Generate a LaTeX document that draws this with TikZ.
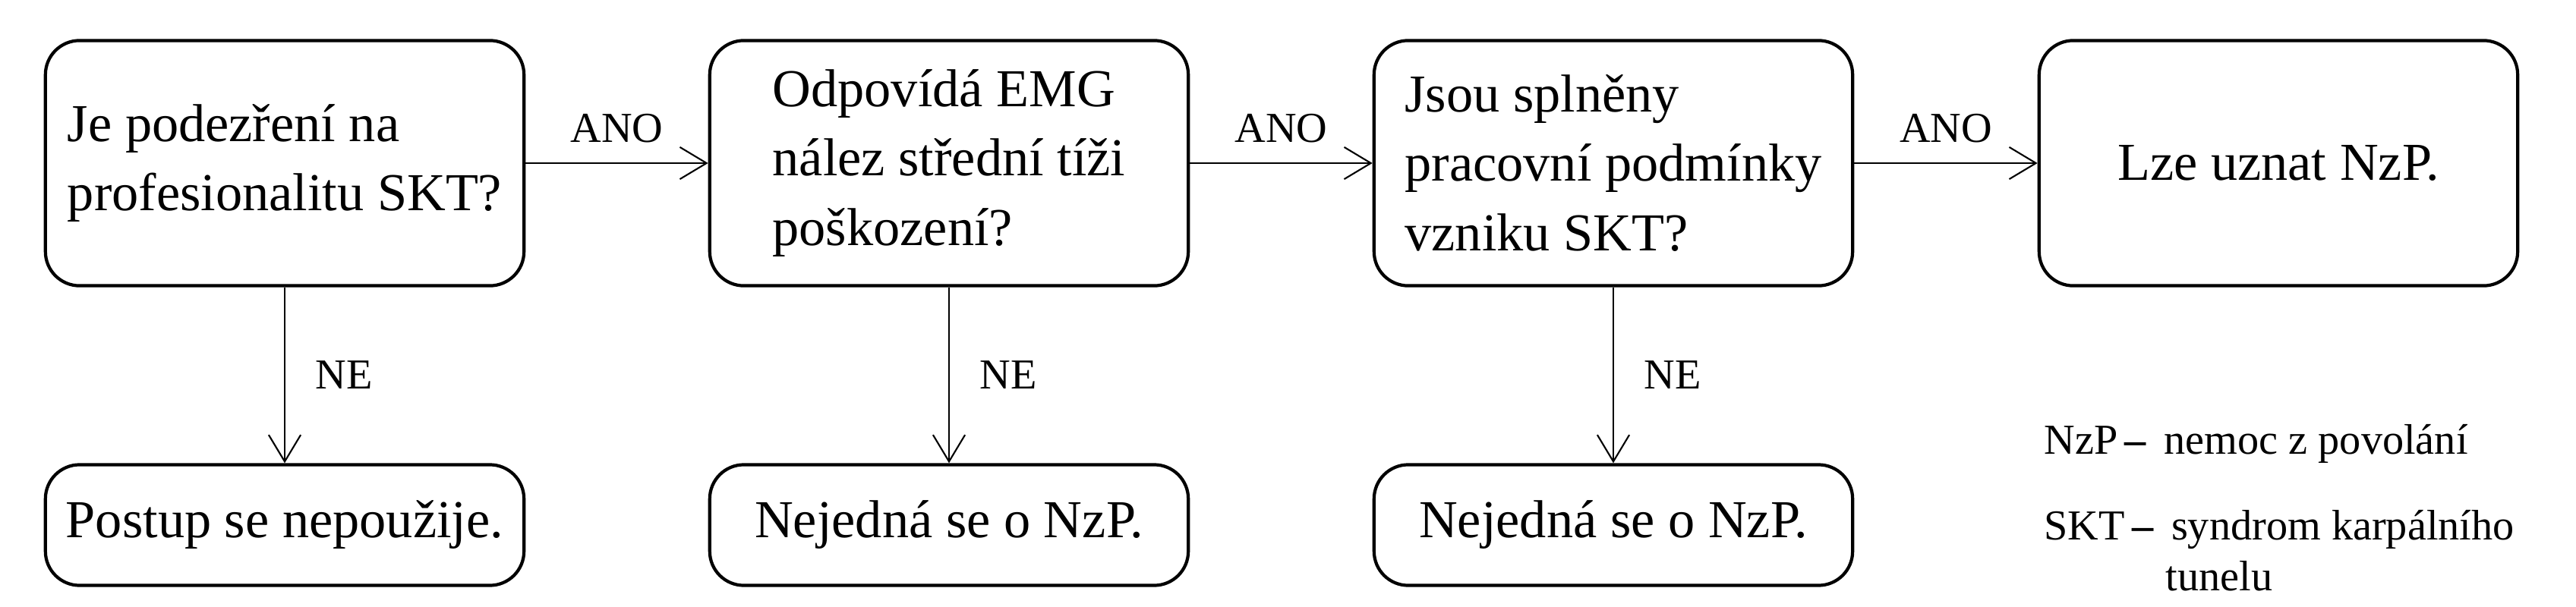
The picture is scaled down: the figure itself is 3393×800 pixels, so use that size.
\documentclass[tikz,border=0pt]{standalone}
\usepackage{fontspec}
\setmainfont{Liberation Serif}
\newfontfamily\tnr{Liberation Serif}
\usetikzlibrary{arrows.meta}
\begin{document}
\begin{tikzpicture}[x=0.01cm,y=-0.01cm,
  every node/.style={font=\tnr},
  box/.style={draw,line width=1.2pt,rounded corners=0.45cm,minimum width=6.3cm,minimum height=3.23cm,font=\tnr\fontsize{20}{26}\selectfont,align=left},
  sbox/.style={draw,line width=1.2pt,rounded corners=0.45cm,minimum width=6.3cm,minimum height=1.59cm,font=\tnr\fontsize{20}{26}\selectfont},
  arr/.style={->,line width=0.6pt,>={Straight Barb[length=10pt,width=12pt]}},
  lab/.style={font=\tnr\fontsize{16}{19}\selectfont}]
\useasboundingbox (0,0) rectangle (3393,800);
\node[box] (b1) at (375,215) {Je podezření na\\profesionalitu SKT?};
\node[box] (b2) at (1250,215) {Odpovídá EMG\\nález střední tíži\\poškození?};
\node[box] (b3) at (2125,215) {Jsou splněny\\pracovní podmínky\\vzniku SKT?};
\node[box,align=center] (b4) at (3001,215) {Lze uznat NzP.};
\node[sbox] (n1) at (375,692) {Postup se nepoužije.};
\node[sbox] (n2) at (1250,692) {Nejedná se o NzP.};
\node[sbox] (n3) at (2125,692) {Nejedná se o NzP.};
\draw[arr] (b1) -- node[lab,above=4pt]{ANO} (b2);
\draw[arr] (b2) -- node[lab,above=4pt]{ANO} (b3);
\draw[arr] (b3) -- node[lab,above=4pt]{ANO} (b4);
\draw[arr] (b1) -- node[lab,right=8pt]{NE} (n1);
\draw[arr] (b2) -- node[lab,right=8pt]{NE} (n2);
\draw[arr] (b3) -- node[lab,right=8pt]{NE} (n3);
\node[lab,anchor=west,align=left] (l1) at (2680,585) {NzP\,\textbf{–}\, nemoc z povolání};
\node[lab,anchor=north west,align=left] (l2) at (2680,660) {SKT\,\textbf{–}\, syndrom karpálního\\\hspace{1.6cm}tunelu};
\end{tikzpicture}
\end{document}
